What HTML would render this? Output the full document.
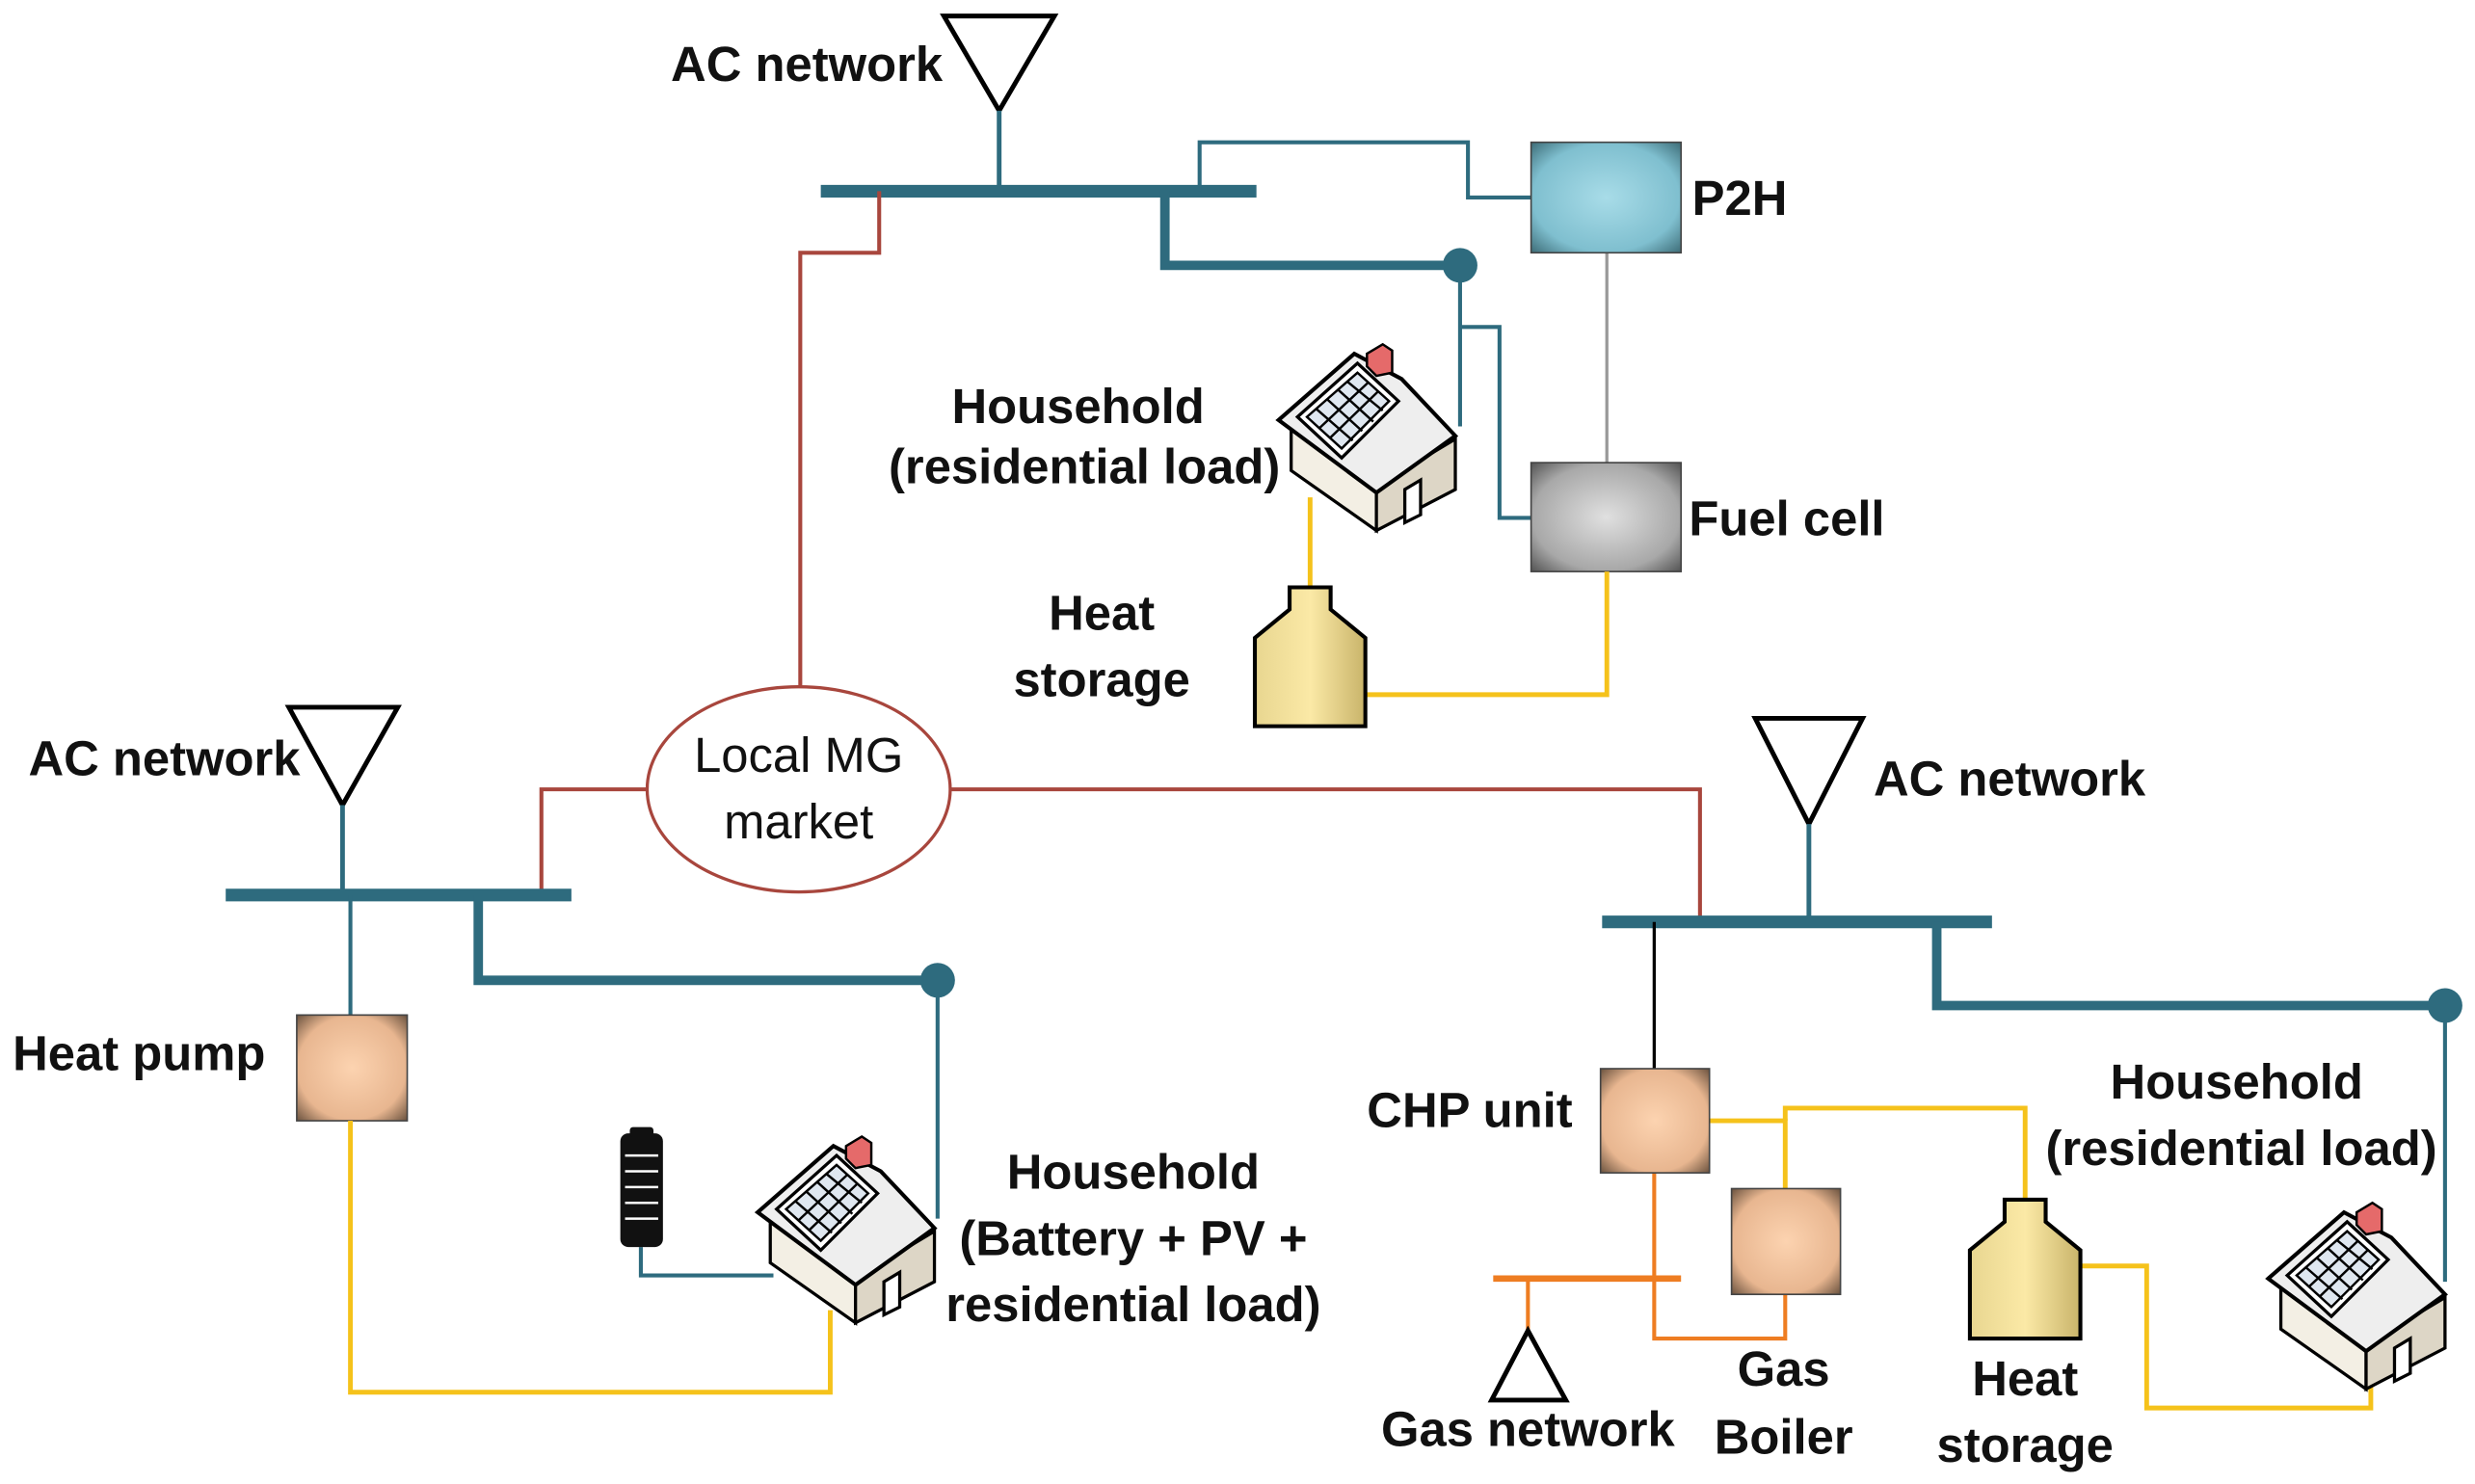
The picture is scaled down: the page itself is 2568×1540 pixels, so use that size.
<!DOCTYPE html>
<html><head><meta charset="utf-8"><style>
html,body{margin:0;padding:0;background:#fff}
svg{display:block}
text{font-family:"Liberation Sans",sans-serif;font-weight:bold;font-size:31px;fill:#111}
</style></head><body>
<svg width="2568" height="1540" viewBox="0 0 1568 940" xmlns="http://www.w3.org/2000/svg">
<defs>
<radialGradient id="blue" cx="50%" cy="50%" r="70%"><stop offset="0" stop-color="#a8dce8"/><stop offset="0.7" stop-color="#7fbfcf"/><stop offset="1" stop-color="#3f6f7a"/></radialGradient>
<radialGradient id="gray" cx="50%" cy="50%" r="70%"><stop offset="0" stop-color="#e0e0e0"/><stop offset="0.7" stop-color="#a8a8a8"/><stop offset="1" stop-color="#555"/></radialGradient>
<radialGradient id="peach" cx="50%" cy="50%" r="70%"><stop offset="0" stop-color="#fcd3b0"/><stop offset="0.7" stop-color="#e8b690"/><stop offset="1" stop-color="#6d5440"/></radialGradient>
<linearGradient id="tank" x1="0" x2="1"><stop offset="0" stop-color="#e8d690"/><stop offset="0.5" stop-color="#fbe9a6"/><stop offset="1" stop-color="#c9b46a"/></linearGradient>
<g id="house">
 <polygon points="8,52 62,90 62,118 8,80" fill="#f3efe4" stroke="#000" stroke-width="2"/>
 <polygon points="62,90 112,60 112,92 62,118" fill="#ddd6c6" stroke="#000" stroke-width="2"/>
 <polygon points="0,48 48,6 78,22 112,58 62,94" fill="#eee" stroke="#000" stroke-width="2.5"/>
 <polygon points="12,46 50,12 76,36 40,72" fill="#fff" stroke="#000" stroke-width="2"/>
 <g stroke="#000" stroke-width="1.5" fill="none">
  <polygon points="18,46 50,18 70,36 40,66" fill="#dfe7f0"/>
  <line x1="26" y1="53" x2="57" y2="24"/><line x1="33" y1="59" x2="63" y2="30"/>
  <line x1="24" y1="41" x2="47" y2="61"/><line x1="31" y1="35" x2="53" y2="55"/><line x1="38" y1="29" x2="60" y2="49"/><line x1="44" y1="24" x2="66" y2="42"/>
 </g>
 <polygon points="56,6 66,0 72,4 72,18 62,20 56,14" fill="#e56a6a" stroke="#000" stroke-width="1.5"/>
 <polygon points="80,92 90,86 90,108 80,113" fill="#fff" stroke="#000" stroke-width="2"/>
</g>
<g id="tankshape">
 <path d="M22,0 H48 V14 L70,32 V88 H0 V32 L22,14 Z" fill="url(#tank)" stroke="#000" stroke-width="2.5"/>
</g>
</defs>

<polygon points="598,10 668,10 633,70" fill="#fff" stroke="#000" stroke-width="3"/>
<text x="425" y="51">AC network</text>
<g stroke="#2e6b7e" fill="none">
 <line x1="633" y1="70" x2="633" y2="121" stroke-width="3"/>
 <line x1="520" y1="121" x2="796" y2="121" stroke-width="8"/>
 <polyline points="738,121 738,168 925,168" stroke-width="6"/>
 <polyline points="760,121 760,90 930,90 930,125 970,125" stroke-width="2.5"/>
 <polyline points="925,168 925,270" stroke-width="2.5"/>
 <polyline points="925,207 950,207 950,328 970,328" stroke-width="2.5"/>
</g>
<circle cx="925" cy="168" r="11" fill="#2e6b7e"/>
<line x1="1018" y1="160" x2="1018" y2="293" stroke="#999" stroke-width="2"/>
<rect x="970" y="90" width="95" height="70" fill="url(#blue)" stroke="#444" stroke-width="1"/>
<text x="1072" y="136">P2H</text>
<rect x="970" y="293" width="95" height="69" fill="url(#gray)" stroke="#444" stroke-width="1"/>
<text x="1070" y="339">Fuel cell</text>
<polyline points="830,315 830,375" stroke="#f5c21b" stroke-width="3" fill="none"/>
<polyline points="865,440 1018,440 1018,362" stroke="#f5c21b" stroke-width="3" fill="none"/>
<use href="#house" x="810" y="218"/>
<use href="#tankshape" x="795" y="372"/>
<text x="683" y="268" text-anchor="middle" font-size="26">Household</text>
<text x="687" y="306" text-anchor="middle" font-size="26">(residential load)</text>
<text x="698" y="399" text-anchor="middle">Heat</text>
<text x="698" y="441" text-anchor="middle">storage</text>

<g stroke="#a8463d" stroke-width="2.5" fill="none">
 <polyline points="557,121 557,160 507,160 507,435"/>
 <polyline points="410,500 343,500 343,567"/>
 <polyline points="602,500 1077,500 1077,584"/>
</g>
<ellipse cx="506" cy="500" rx="96" ry="65" fill="#fff" stroke="#a8463d" stroke-width="2"/>
<text x="506" y="489" text-anchor="middle" style="font-weight:normal" font-size="30">Local MG</text>
<text x="506" y="531" text-anchor="middle" style="font-weight:normal" font-size="30">market</text>

<polygon points="183,448 252,448 217,510" fill="#fff" stroke="#000" stroke-width="3"/>
<text x="18" y="491">AC network</text>
<g stroke="#2e6b7e" fill="none">
 <line x1="217" y1="510" x2="217" y2="567" stroke-width="3"/>
 <line x1="143" y1="567" x2="362" y2="567" stroke-width="8"/>
 <polyline points="303,567 303,621 594,621" stroke-width="6"/>
 <line x1="222" y1="567" x2="222" y2="643" stroke-width="2.5"/>
 <line x1="594" y1="621" x2="594" y2="772" stroke-width="2.5"/>
 <polyline points="406,790 406,808 490,808" stroke-width="2.5"/>
</g>
<circle cx="594" cy="621" r="11" fill="#2e6b7e"/>
<rect x="188" y="643" width="70" height="67" fill="url(#peach)" stroke="#444" stroke-width="1"/>
<text x="8" y="678">Heat pump</text>
<polyline points="222,710 222,882 526,882 526,830" stroke="#f5c21b" stroke-width="3" fill="none"/>
<g>
 <rect x="393" y="718" width="27" height="72" rx="5" fill="#111"/>
 <rect x="399" y="714" width="15" height="6" rx="2" fill="#111"/>
 <g stroke="#fff" stroke-width="1.5"><line x1="396" y1="732" x2="417" y2="732"/><line x1="396" y1="742" x2="417" y2="742"/><line x1="396" y1="752" x2="417" y2="752"/><line x1="396" y1="762" x2="417" y2="762"/><line x1="396" y1="772" x2="417" y2="772"/></g>
</g>
<use href="#house" x="480" y="720"/>
<text x="718" y="753" text-anchor="middle">Household</text>
<text x="718" y="795" text-anchor="middle">(Battery + PV +</text>
<text x="718" y="837" text-anchor="middle">residential load)</text>

<polygon points="1112,455 1180,455 1146,522" fill="#fff" stroke="#000" stroke-width="3"/>
<text x="1187" y="504">AC network</text>
<g stroke="#2e6b7e" fill="none">
 <line x1="1146" y1="522" x2="1146" y2="584" stroke-width="3"/>
 <line x1="1015" y1="584" x2="1262" y2="584" stroke-width="8"/>
 <polyline points="1227,584 1227,637 1549,637" stroke-width="6"/>
 <line x1="1549" y1="637" x2="1549" y2="812" stroke-width="2.5"/>
</g>
<circle cx="1549" cy="637" r="11" fill="#2e6b7e"/>
<line x1="1048" y1="584" x2="1048" y2="677" stroke="#000" stroke-width="2"/>
<g stroke="#ee7d22" fill="none">
 <polyline points="1048,743 1048,848 1131,848 1131,820" stroke-width="2.5"/>
 <line x1="946" y1="810" x2="1065" y2="810" stroke-width="4"/>
 <line x1="968" y1="810" x2="968" y2="843" stroke-width="2.5"/>
</g>
<polygon points="945,887 992,887 968,843" fill="#fff" stroke="#000" stroke-width="3"/>
<g stroke="#f5c21b" stroke-width="3" fill="none">
 <polyline points="1083,710 1131,710 1131,753"/>
 <polyline points="1131,710 1131,702 1283,702 1283,760"/>
 <polyline points="1318,802 1360,802 1360,892 1502,892 1502,878"/>
</g>
<rect x="1014" y="677" width="69" height="66" fill="url(#peach)" stroke="#444" stroke-width="1"/>
<rect x="1097" y="753" width="69" height="67" fill="url(#peach)" stroke="#444" stroke-width="1"/>
<text x="866" y="714">CHP unit</text>
<use href="#tankshape" x="1248" y="760"/>
<use href="#house" x="1437" y="762"/>
<text x="968" y="916" text-anchor="middle">Gas network</text>
<text x="1130" y="878" text-anchor="middle">Gas</text>
<text x="1130" y="921" text-anchor="middle">Boiler</text>
<text x="1283" y="884" text-anchor="middle">Heat</text>
<text x="1283" y="926" text-anchor="middle">storage</text>
<text x="1417" y="696" text-anchor="middle">Household</text>
<text x="1420" y="738" text-anchor="middle">(residential load)</text>
</svg>
</body></html>
